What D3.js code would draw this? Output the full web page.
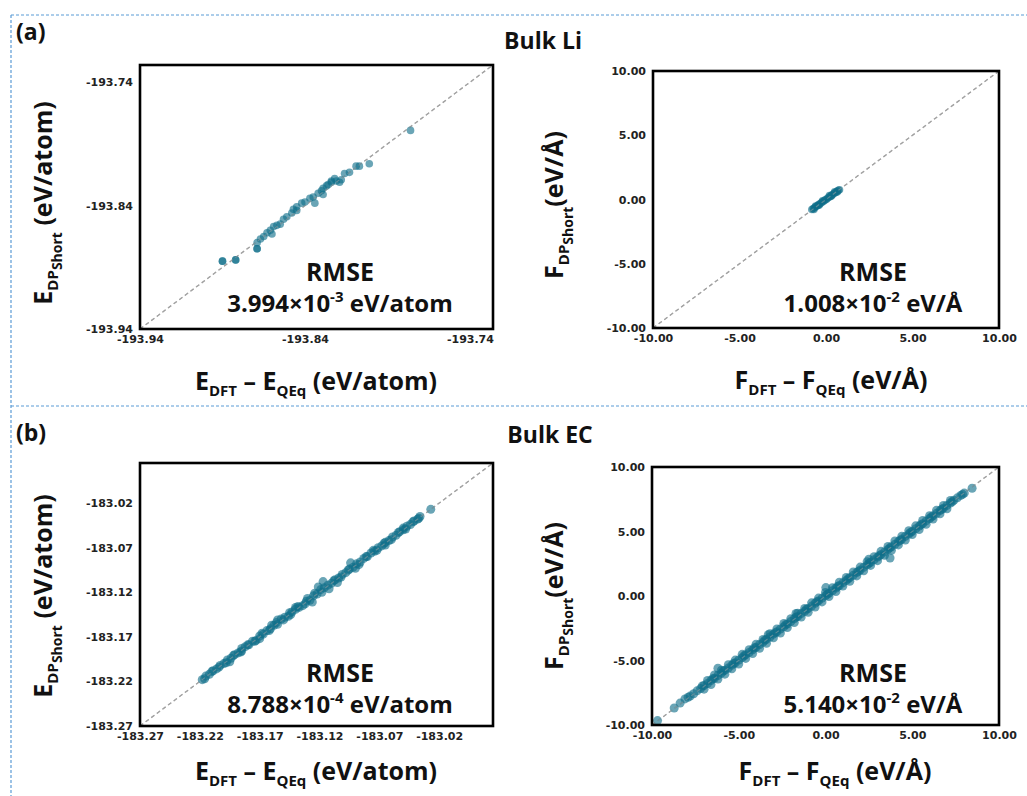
<!DOCTYPE html>
<html>
<head>
<meta charset="utf-8">
<script src="https://cdn.jsdelivr.net/npm/d3@7"></script>
<style>
  body { margin: 0; background: #fff; }
  svg { display: block; }
</style>
</head>
<body>
<div id="chart"></div>
<script>
'use strict';

// tick values for each axis
var liEnergyTicks = [-193.94, -193.84, -193.74];
var ecEnergyTicks = [-183.27, -183.22, -183.17, -183.12, -183.07, -183.02];
var forceTicks = [-10, -5, 0, 5, 10];

// axis ranges (same on x and y, parity plots)
var liEnergyDomain = [-193.94, -193.726];
var ecEnergyDomain = [-183.27, -182.975];
var forceDomain = [-10, 10];

// rmse text: mantissa, exponent, unit
var rmseLiEnergy = ['3.994', '-3', 'eV/atom'];
var rmseLiForce = ['1.008', '-2', 'eV/Å'];
var rmseEcEnergy = ['8.788', '-4', 'eV/atom'];
var rmseEcForce = ['5.140', '-2', 'eV/Å'];

// [E_DFT - E_QEq, E_DPShort] for bulk Li
var liEnergyPoints = [
  [-193.776,-193.779],[-193.801,-193.806],[-193.807,-193.808],[-193.809,-193.808],
  [-193.813,-193.813],[-193.816,-193.814],[-193.818,-193.819],[-193.819,-193.821],
  [-193.821,-193.820],[-193.824,-193.821],[-193.824,-193.820],[-193.827,-193.824],
  [-193.829,-193.826],[-193.830,-193.828],[-193.832,-193.830],[-193.829,-193.831],
  [-193.834,-193.838],[-193.835,-193.833],[-193.837,-193.834],[-193.840,-193.837],
  [-193.842,-193.838],[-193.845,-193.841],[-193.847,-193.843],[-193.848,-193.846],
  [-193.845,-193.844],[-193.851,-193.849],[-193.853,-193.851],[-193.855,-193.855],
  [-193.857,-193.856],[-193.859,-193.857],[-193.861,-193.860],[-193.860,-193.863],
  [-193.863,-193.862],[-193.865,-193.865],[-193.867,-193.867],[-193.869,-193.870],
  [-193.869,-193.875],[-193.869,-193.875],[-193.882,-193.884],[-193.882,-193.884],
  [-193.890,-193.885],[-193.890,-193.885],[-193.826,-193.823],[-193.822,-193.818]
];

// [F_DFT - F_QEq, F_DPShort] for bulk Li
var liForcePoints = [
  [-0.82,-0.78],[-0.74,-0.70],[-0.66,-0.64],[-0.58,-0.55],[-0.50,-0.49],[-0.43,-0.40],
  [-0.35,-0.34],[-0.27,-0.26],[-0.20,-0.18],[-0.12,-0.12],[-0.05,-0.03],[0.03,0.02],
  [0.10,0.11],[0.18,0.17],[0.26,0.26],[0.33,0.34],[0.41,0.40],[0.49,0.50],
  [0.56,0.55],[0.64,0.65],[0.72,0.72],[0.78,0.76],[-0.60,-0.50],[-0.20,-0.10],
  [0.20,0.30],[0.50,0.60],[-0.40,-0.45],[0.30,0.25],[-0.70,-0.78],[0.65,0.58]
];

// [E_DFT - E_QEq, E_DPShort] for bulk EC
var ecEnergyPoints = [
  [-183.218,-183.218],[-183.215,-183.214],[-183.212,-183.212],[-183.209,-183.208],
  [-183.206,-183.206],[-183.203,-183.202],[-183.200,-183.200],[-183.197,-183.196],
  [-183.194,-183.194],[-183.191,-183.190],[-183.188,-183.188],[-183.185,-183.186],
  [-183.182,-183.181],[-183.179,-183.179],[-183.176,-183.175],[-183.173,-183.174],
  [-183.170,-183.169],[-183.167,-183.167],[-183.164,-183.163],[-183.161,-183.161],
  [-183.158,-183.157],[-183.155,-183.156],[-183.152,-183.150],[-183.149,-183.148],
  [-183.146,-183.147],[-183.143,-183.142],[-183.140,-183.139],[-183.137,-183.137],
  [-183.134,-183.135],[-183.131,-183.130],[-183.128,-183.129],[-183.125,-183.124],
  [-183.122,-183.122],[-183.119,-183.117],[-183.116,-183.115],[-183.113,-183.112],
  [-183.110,-183.110],[-183.107,-183.106],[-183.104,-183.104],[-183.101,-183.100],
  [-183.098,-183.098],[-183.095,-183.094],[-183.092,-183.092],[-183.089,-183.088],
  [-183.086,-183.086],[-183.083,-183.082],[-183.080,-183.080],[-183.077,-183.076],
  [-183.074,-183.074],[-183.071,-183.070],[-183.068,-183.068],[-183.065,-183.064],
  [-183.062,-183.062],[-183.059,-183.058],[-183.056,-183.056],[-183.053,-183.052],
  [-183.050,-183.050],[-183.047,-183.046],[-183.044,-183.044],[-183.041,-183.040],
  [-183.038,-183.038],[-183.036,-183.035],[-183.027,-183.027],
  [-183.117,-183.108],[-183.121,-183.114],[-183.094,-183.087],[-183.126,-183.131],
  [-183.130,-183.127],[-183.155,-183.151],[-183.160,-183.157],[-183.140,-183.137],
  [-183.112,-183.116],[-183.105,-183.109],[-183.185,-183.183],[-183.195,-183.198],
  [-183.065,-183.067],[-183.075,-183.073],[-183.050,-183.048],[-183.090,-183.093],
  [-183.170,-183.172],[-183.145,-183.143],
  [-183.216,-183.217],[-183.210,-183.209],[-183.204,-183.204],[-183.198,-183.199],
  [-183.192,-183.191],[-183.186,-183.187],[-183.180,-183.179],[-183.174,-183.175],
  [-183.168,-183.166],[-183.162,-183.163],[-183.156,-183.154],[-183.150,-183.151],
  [-183.144,-183.145],[-183.138,-183.136],[-183.132,-183.133],[-183.124,-183.121],
  [-183.118,-183.120],[-183.108,-183.107],[-183.102,-183.103],[-183.096,-183.095],
  [-183.087,-183.089],[-183.081,-183.080],[-183.072,-183.073],[-183.066,-183.065],
  [-183.060,-183.061],[-183.054,-183.053],[-183.048,-183.049],[-183.042,-183.041],
  [-183.037,-183.037]
];

// [F_DFT - F_QEq, F_DPShort] for bulk EC
var ecForcePoints = [
  [-9.68,-9.66],[-8.72,-8.68],[-8.38,-8.30],[-8.10,-7.98],[-7.92,-7.85],
  [-7.8,-7.76],[-7.6,-7.58],[-7.4,-7.35],[-7.2,-7.18],[-7.0,-6.94],[-6.8,-6.78],
  [-6.6,-6.55],[-6.4,-6.38],[-6.2,-6.16],[-6.0,-5.98],[-5.8,-5.75],[-5.6,-5.58],
  [-5.4,-5.36],[-5.2,-5.18],[-5.0,-4.96],[-4.8,-4.78],[-4.6,-4.55],[-4.4,-4.38],
  [-4.2,-4.17],[-4.0,-3.98],[-3.8,-3.76],[-3.6,-3.58],[-3.4,-3.36],[-3.2,-3.18],
  [-3.0,-2.96],[-2.8,-2.78],[-2.6,-2.56],[-2.4,-2.38],[-2.2,-2.17],[-2.0,-1.98],
  [-1.8,-1.76],[-1.6,-1.58],[-1.4,-1.36],[-1.2,-1.18],[-1.0,-0.97],[-0.8,-0.78],
  [-0.6,-0.56],[-0.4,-0.38],[-0.2,-0.17],[0.0,0.02],[0.2,0.22],[0.4,0.41],
  [0.6,0.62],[0.8,0.81],[1.0,1.02],[1.2,1.21],[1.4,1.42],[1.6,1.61],[1.8,1.82],
  [2.0,2.01],[2.2,2.22],[2.4,2.41],[2.6,2.62],[2.8,2.81],[3.0,3.02],[3.2,3.21],
  [3.4,3.42],[3.6,3.61],[3.8,3.82],[4.0,4.01],[4.2,4.22],[4.4,4.41],[4.6,4.62],
  [4.8,4.81],[5.0,5.02],[5.2,5.21],[5.4,5.42],[5.6,5.61],[5.8,5.82],[6.0,6.01],
  [6.2,6.22],[6.4,6.41],[6.6,6.62],[6.8,6.81],[7.0,7.02],[7.2,7.21],[7.4,7.42],
  [7.6,7.61],[7.8,7.80],[8.0,7.98],
  [-6.8,-6.55],[-6.4,-6.12],[-6.0,-5.76],[-5.6,-5.33],[-5.2,-4.97],[-4.8,-4.52],
  [-4.4,-4.16],[-4.0,-3.74],[-3.6,-3.37],[-3.2,-2.93],[-2.8,-2.56],[-2.4,-2.13],
  [-2.0,-1.76],[-1.6,-1.33],[-1.2,-0.96],[-0.8,-0.53],[-0.4,-0.16],[0.0,0.27],
  [0.4,0.64],[0.8,1.07],[1.2,1.44],[1.6,1.87],[2.0,2.24],[2.4,2.66],[2.8,3.05],
  [3.2,3.46],[3.6,3.84],[4.0,4.27],[4.4,4.63],[4.8,5.06],[5.2,5.44],[5.6,5.85],
  [6.0,6.23],[6.4,6.64],[6.8,7.02],[7.2,7.40],
  [-7.0,-7.22],[-6.6,-6.86],[-6.2,-6.43],[-5.8,-6.06],[-5.4,-5.64],[-5.0,-5.27],
  [-4.6,-4.84],[-4.2,-4.46],[-3.8,-4.05],[-3.4,-3.66],[-3.0,-3.24],[-2.6,-2.87],
  [-2.2,-2.45],[-1.8,-2.06],[-1.4,-1.63],[-1.0,-1.26],[-0.6,-0.85],[-0.2,-0.46],
  [0.2,-0.04],[0.6,0.35],[1.0,0.77],[1.4,1.14],[1.8,1.56],[2.2,1.95],[2.6,2.37],
  [3.0,2.74],[3.4,3.16],[3.8,3.55],[4.2,3.96],[4.6,4.34],[5.0,4.77],[5.4,5.15],
  [5.8,5.56],[6.2,5.96],[6.6,6.37],[7.0,6.76],
  [-7.1,-6.98],[-6.5,-6.41],[-5.9,-5.82],[-5.3,-5.23],[-4.7,-4.64],[-4.1,-4.02],
  [-3.5,-3.43],[-2.9,-2.84],[-2.3,-2.22],[-1.7,-1.64],[-1.1,-1.03],[-0.5,-0.44],
  [0.1,0.14],[0.7,0.73],[1.3,1.33],[1.9,1.92],[2.5,2.53],[3.1,3.12],[3.7,3.73],
  [4.3,4.32],[4.9,4.93],[5.5,5.52],[6.1,6.13],[6.7,6.72],[7.3,7.31],[7.9,7.88],
  [3.72,2.95],[0.02,0.65],[-6.2,-5.6],[-1.7,-1.35],[8.45,8.35],[2.5,2.85],[-3.3,-3.0]
];

var width = 1027;
var height = 796;
var textFont = "'Open Sans', 'Noto Sans', sans-serif";
var tickFont = "'DejaVu Sans', sans-serif";
var dotColor = '#0f6d89';

var svg = d3.select('#chart').append('svg')
  .attr('width', width)
  .attr('height', height);

// dashed blue frame lines
var frame = [
  [11, 15, width, 15],
  [11, 15, 11, height],
  [11, 406, width, 406]
];
svg.selectAll('line.frame').data(frame)
  .enter().append('line')
  .attr('class', 'frame')
  .attr('x1', function(d){ return d[0]; })
  .attr('y1', function(d){ return d[1]; })
  .attr('x2', function(d){ return d[2]; })
  .attr('y2', function(d){ return d[3]; })
  .attr('stroke', '#5b9bd5')
  .attr('stroke-width', 1.2)
  .attr('stroke-dasharray', '3,2');

// panel letters and titles
var heading = function(txt, x, y, anchor){
  svg.append('text')
    .attr('x', x).attr('y', y)
    .attr('text-anchor', anchor)
    .attr('font-family', textFont)
    .attr('font-weight', 700)
    .attr('font-size', 23)
    .attr('fill', '#111')
    .text(txt);
};
heading('(a)', 16, 40, 'start');
heading('Bulk Li', 543, 49, 'middle');
heading('(b)', 16, 441, 'start');
heading('Bulk EC', 550, 443, 'middle');

// main symbol with nested subscripts, used for the y axis titles
var subLabel = function(t, sym, sub1, sub2, rest){
  t.append('tspan').text(sym);
  t.append('tspan').attr('font-size', 15).attr('dy', 6).text(sub1);
  t.append('tspan').attr('font-size', 14).attr('dy', 4).text(sub2);
  t.append('tspan').attr('dy', -10).text(rest);
};

var drawPanel = function(p){
  var g = svg.append('g');
  var x = d3.scaleLinear().domain(p.domain).range([p.left, p.right]);
  var y = d3.scaleLinear().domain(p.domain).range([p.bottom, p.top]);
  var fmt = function(d){ return d.toFixed(2); };

  // y = x reference line
  g.append('line')
    .attr('x1', x(p.domain[0])).attr('y1', y(p.domain[0]))
    .attr('x2', x(p.domain[1])).attr('y2', y(p.domain[1]))
    .attr('stroke', '#9a9a9a')
    .attr('stroke-width', 1.3)
    .attr('stroke-dasharray', '4,3');

  g.selectAll('circle').data(p.points)
    .enter().append('circle')
    .attr('cx', function(d){ return x(d[0]); })
    .attr('cy', function(d){ return y(d[1]); })
    .attr('r', p.r)
    .attr('fill', dotColor)
    .attr('fill-opacity', 0.62);

  // dashed diagonal shows faintly through the dense bands
  g.append('line')
    .attr('x1', x(p.domain[0])).attr('y1', y(p.domain[0]))
    .attr('x2', x(p.domain[1])).attr('y2', y(p.domain[1]))
    .attr('stroke', '#a9a9a9')
    .attr('stroke-opacity', 0.5)
    .attr('stroke-width', 1.2)
    .attr('stroke-dasharray', '4,3');

  g.append('rect')
    .attr('x', p.left).attr('y', p.top)
    .attr('width', p.right - p.left)
    .attr('height', p.bottom - p.top)
    .attr('fill', 'none')
    .attr('stroke', '#000')
    .attr('stroke-width', 2.6);

  var xAxis = g.append('g')
    .attr('transform', 'translate(0,' + p.bottom + ')')
    .call(d3.axisBottom(x).tickValues(p.ticks).tickSize(0).tickPadding(6).tickFormat(fmt));
  var yAxis = g.append('g')
    .attr('transform', 'translate(' + p.left + ',0)')
    .call(d3.axisLeft(y).tickValues(p.ticks).tickSize(0).tickPadding(7).tickFormat(fmt));
  [xAxis, yAxis].forEach(function(a){
    a.select('.domain').remove();
    a.selectAll('text')
      .attr('font-family', tickFont)
      .attr('font-weight', 700)
      .attr('font-size', 11)
      .attr('fill', '#222');
  });

  // axis titles
  var xt = g.append('text')
    .attr('x', p.xLabel[0]).attr('y', p.xLabel[1])
    .attr('text-anchor', 'middle')
    .attr('font-family', textFont)
    .attr('font-weight', 700)
    .attr('font-size', 25)
    .attr('fill', '#111');
  xt.append('tspan').text(p.sym);
  xt.append('tspan').attr('font-size', 15).attr('dy', 6).text('DFT');
  xt.append('tspan').attr('dy', -6).text(' – ' + p.sym);
  xt.append('tspan').attr('font-size', 15).attr('dy', 6).text('QEq');
  xt.append('tspan').attr('dy', -6).text(' (' + p.unit + ')');

  var yt = g.append('text')
    .attr('transform', 'translate(' + p.yLabel[0] + ',' + p.yLabel[1] + ') rotate(-90)')
    .attr('text-anchor', 'middle')
    .attr('font-family', textFont)
    .attr('font-weight', 700)
    .attr('font-size', 25)
    .attr('fill', '#111');
  subLabel(yt, p.sym, 'DP', 'Short', p.yGap + '(' + p.unit + ')');

  // rmse annotation
  g.append('text')
    .attr('x', p.rmseX).attr('y', p.rmseY)
    .attr('text-anchor', 'middle')
    .attr('font-family', textFont)
    .attr('font-weight', 700)
    .attr('font-size', 25)
    .attr('fill', '#111')
    .text('RMSE');
  var r = g.append('text')
    .attr('x', p.rmseX).attr('y', p.rmseY + 31)
    .attr('text-anchor', 'middle')
    .attr('font-family', textFont)
    .attr('font-weight', 700)
    .attr('font-size', 24)
    .attr('fill', '#111');
  r.append('tspan').text(p.rmse[0] + '×10');
  r.append('tspan').attr('font-size', 15).attr('dy', -10).text(p.rmse[1]);
  r.append('tspan').attr('dy', 10).text(' ' + p.rmse[2]);
};

drawPanel({
  points: liEnergyPoints, domain: liEnergyDomain, ticks: liEnergyTicks, r: 3.8,
  left: 140, right: 493, top: 65, bottom: 329,
  sym: 'E', unit: 'eV/atom', yGap: ' ',
  xLabel: [316, 390], yLabel: [52, 203],
  rmse: rmseLiEnergy, rmseX: 340, rmseY: 281
});
drawPanel({
  points: liForcePoints, domain: forceDomain, ticks: forceTicks, r: 3.8,
  left: 653, right: 999, top: 71, bottom: 328,
  sym: 'F', unit: 'eV/Å', yGap: '',
  xLabel: [831, 389], yLabel: [563, 205],
  rmse: rmseLiForce, rmseX: 873, rmseY: 281
});
drawPanel({
  points: ecEnergyPoints, domain: ecEnergyDomain, ticks: ecEnergyTicks, r: 4.5,
  left: 140, right: 493, top: 463, bottom: 726,
  sym: 'E', unit: 'eV/atom', yGap: ' ',
  xLabel: [316, 780], yLabel: [52, 596],
  rmse: rmseEcEnergy, rmseX: 340, rmseY: 682
});
drawPanel({
  points: ecForcePoints, domain: forceDomain, ticks: forceTicks, r: 4.5,
  left: 652, right: 999, top: 467, bottom: 725,
  sym: 'F', unit: 'eV/Å', yGap: '',
  xLabel: [835, 780], yLabel: [563, 596],
  rmse: rmseEcForce, rmseX: 873, rmseY: 682
});
</script>
</body>
</html>
